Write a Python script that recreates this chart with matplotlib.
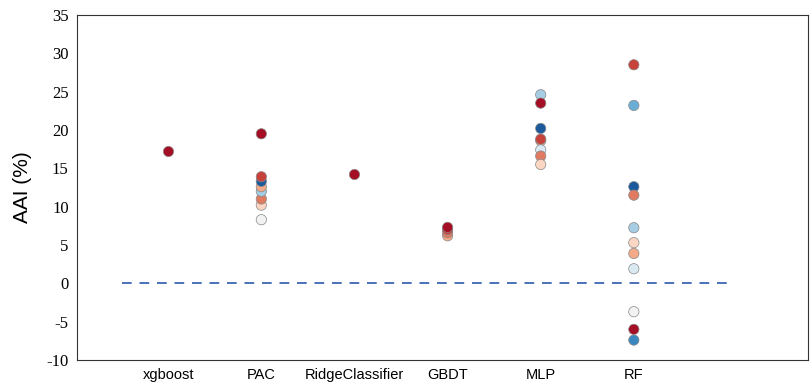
import matplotlib
matplotlib.use("Agg")
import matplotlib.pyplot as plt

models = ["xgboost", "PAC", "RidgeClassifier", "GBDT", "MLP", "RF"]

# colour codes (RdBu-like, dark red -> dark blue)
palette = ["#a50f25", "#c8423c", "#e07b62", "#f4aa88", "#fbd6c3", "#f2f2f2",
           "#dbe9f3", "#a6cde4", "#6aaed6", "#3a87c0", "#1b5a9c"]

# AAI values per model, with palette index for each point
xgb_vals = [17.2]
xgb_col = [0]
pac_vals = [19.5, 8.3, 10.2, 11.0, 12.0, 12.6, 13.3, 13.9]
pac_col = [0, 5, 4, 2, 7, 3, 10, 1]
ridge_vals = [14.2]
ridge_col = [0]
gbdt_vals = [6.2, 6.6, 7.0, 7.3]
gbdt_col = [3, 2, 1, 0]
mlp_vals = [24.6, 23.5, 20.2, 18.6, 18.8, 17.4, 16.6, 15.5]
mlp_col = [7, 0, 10, 3, 1, 6, 2, 4]
rf_vals = [28.5, 23.2, 12.6, 11.5, 7.25, 5.3, 3.9, 1.9, -3.7, -6.0, -7.4]
rf_col = [1, 8, 10, 2, 7, 4, 3, 6, 5, 0, 9]

all_vals = [xgb_vals, pac_vals, ridge_vals, gbdt_vals, mlp_vals, rf_vals]
all_cols = [xgb_col, pac_col, ridge_col, gbdt_col, mlp_col, rf_col]

fig = plt.figure(figsize=(8.1, 3.83), dpi=100)
ax = fig.add_axes([0.095, 0.06, 0.9025, 0.901])

ax.hlines(0, -0.5, 6.0, colors="#4a72b8", linestyles=(0, (5, 4)), linewidth=1.4, zorder=1)

for i, (vals, cols) in enumerate(zip(all_vals, all_cols)):
    ax.scatter([i] * len(vals), vals, c=[palette[c] for c in cols], s=55,
               edgecolors="#888888", linewidths=0.5, zorder=3)

ax.set_xlim(-0.98, 6.87)
ax.set_ylim(-10, 35)
ax.set_xticks(range(len(models)))
ax.set_xticklabels(models, fontsize=10.5, family="Liberation Sans")
ax.set_yticks(range(-10, 36, 5))
ax.set_yticklabels([str(v) for v in range(-10, 36, 5)], fontsize=12, family="Liberation Serif")
ax.tick_params(length=0, pad=6)
ax.set_ylabel("AAI (%)", fontsize=15, family="Liberation Sans", labelpad=10)
for s in ax.spines.values():
    s.set_color("#333333")
    s.set_linewidth(0.8)

fig.savefig("out.png", dpi=100)
